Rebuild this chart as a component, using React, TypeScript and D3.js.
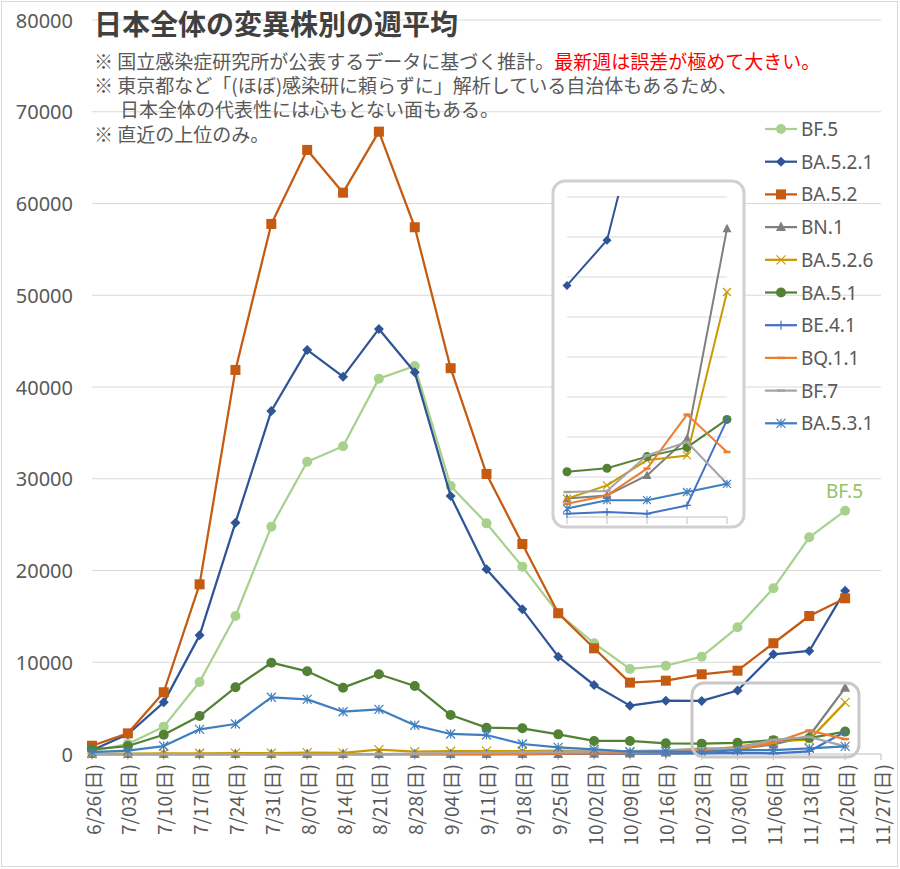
import * as d3 from "d3";

const weeks = [
  "6/26(日)", "7/03(日)", "7/10(日)", "7/17(日)", "7/24(日)", "7/31(日)",
  "8/07(日)", "8/14(日)", "8/21(日)", "8/28(日)", "9/04(日)", "9/11(日)",
  "9/18(日)", "9/25(日)", "10/02(日)", "10/09(日)", "10/16(日)", "10/23(日)",
  "10/30(日)", "11/06(日)", "11/13(日)", "11/20(日)", "11/27(日)",
];

const bf5 = [300, 1100, 2980, 7850, 15040, 24780, 31860, 33540, 40910, 42290, 29210, 25140, 20420, 15340, 12070, 9270, 9620, 10610, 13810, 18060, 23620, 26520];
const ba5_2_1 = [400, 2150, 5630, 12930, 25210, 37390, 44040, 41130, 46330, 41600, 28120, 20130, 15770, 10610, 7520, 5270, 5810, 5790, 6920, 10860, 11230, 17800];
const ba5_2 = [900, 2250, 6730, 18490, 41860, 57770, 65840, 61180, 67830, 57410, 42050, 30520, 22890, 15340, 11520, 7780, 7990, 8690, 9080, 12070, 15040, 16970];
const bn1 = [0, 0, 0, 0, 0, 0, 0, 0, 0, 0, 0, 0, 0, 10, 20, 50, 150, 460, 540, 1040, 1960, 7210];
const ba5_2_6 = [30, 40, 60, 80, 90, 100, 150, 120, 480, 250, 300, 320, 300, 380, 300, 200, 250, 460, 790, 1420, 1540, 5625];
const ba5_1 = [510, 870, 2100, 4140, 7270, 9950, 9010, 7230, 8690, 7410, 4250, 2870, 2800, 2140, 1420, 1420, 1160, 1130, 1220, 1510, 1740, 2440];
const be4_1 = [0, 0, 0, 0, 0, 0, 0, 0, 0, 0, 0, 0, 0, 10, 20, 30, 50, 80, 125, 80, 290, 2430];
const bq1_1 = [0, 0, 0, 0, 0, 0, 0, 0, 0, 0, 0, 0, 10, 30, 60, 100, 200, 330, 540, 1210, 2560, 1625];
const bf7 = [0, 0, 0, 0, 0, 0, 0, 0, 0, 50, 100, 150, 200, 250, 300, 300, 400, 625, 650, 1540, 1875, 830];
const ba5_3_1 = [200, 360, 870, 2690, 3270, 6180, 5960, 4610, 4870, 3130, 2180, 2070, 1090, 730, 510, 250, 280, 210, 420, 420, 625, 830];

const yTicks = [0, 10000, 20000, 30000, 40000, 50000, 60000, 70000, 80000];
const insetTicks = [1000, 2000, 3000, 4000, 5000, 6000, 7000, 8000];

type MarkerType = "circle" | "square" | "diamond" | "triangle" | "x" | "plus" | "dash" | "star";

const series: { name: string; values: number[]; color: string; marker: MarkerType }[] = [
  { name: "BF.5", values: bf5, color: "#a9d18e", marker: "circle" },
  { name: "BA.5.2.1", values: ba5_2_1, color: "#2f5597", marker: "diamond" },
  { name: "BA.5.2", values: ba5_2, color: "#c55a11", marker: "square" },
  { name: "BN.1", values: bn1, color: "#7f7f7f", marker: "triangle" },
  { name: "BA.5.2.6", values: ba5_2_6, color: "#c89a00", marker: "x" },
  { name: "BA.5.1", values: ba5_1, color: "#548235", marker: "circle" },
  { name: "BE.4.1", values: be4_1, color: "#4472c4", marker: "plus" },
  { name: "BQ.1.1", values: bq1_1, color: "#ed7d31", marker: "dash" },
  { name: "BF.7", values: bf7, color: "#a5a5a5", marker: "dash" },
  { name: "BA.5.3.1", values: ba5_3_1, color: "#3f7fbf", marker: "star" },
];

const LATIN = "'Noto Sans', 'DejaVu Sans', sans-serif";
const CJK = "'Noto Sans CJK JP', 'Noto Sans', sans-serif";
const TEXT = "#595959";

function Marker({ type, cx, cy, color, s }: { type: MarkerType; cx: number; cy: number; color: string; s: number }) {
  const r = s / 2;
  switch (type) {
    case "circle":
      return <circle cx={cx} cy={cy} r={r} fill={color} />;
    case "square":
      return <rect x={cx - r} y={cy - r} width={s} height={s} fill={color} />;
    case "diamond":
      return <path d={`M${cx},${cy - r}L${cx + r},${cy}L${cx},${cy + r}L${cx - r},${cy}Z`} fill={color} />;
    case "triangle":
      return <path d={`M${cx},${cy - r * 1.1}L${cx + r},${cy + r * 0.8}L${cx - r},${cy + r * 0.8}Z`} fill={color} />;
    case "x":
      return (
        <path d={`M${cx - r},${cy - r}L${cx + r},${cy + r}M${cx - r},${cy + r}L${cx + r},${cy - r}`} stroke={color} strokeWidth={1.2} fill="none" />
      );
    case "plus":
      return (
        <path d={`M${cx - r},${cy}L${cx + r},${cy}M${cx},${cy - r}L${cx},${cy + r}`} stroke={color} strokeWidth={1.2} fill="none" />
      );
    case "dash":
      return <path d={`M${cx - r},${cy}L${cx + r},${cy}`} stroke={color} strokeWidth={2.5} fill="none" />;
    case "star":
      return (
        <path
          d={`M${cx - r},${cy - r}L${cx + r},${cy + r}M${cx - r},${cy + r}L${cx + r},${cy - r}M${cx},${cy - r}L${cx},${cy + r}`}
          stroke={color}
          strokeWidth={1.2}
          fill="none"
        />
      );
  }
  return null;
}

function markerSize(type: MarkerType, big: boolean) {
  const base: Record<MarkerType, number> = {
    circle: 10, square: 10, diamond: 10, triangle: 10, x: 9, plus: 9, dash: 8, star: 9,
  };
  return big ? base[type] : base[type] - 1;
}

export default function App() {
  const x = d3.scalePoint<string>().domain(weeks).range([92, 881]);
  const y = d3.scaleLinear().domain([0, 80000]).range([754, 20]);

  const insetWeeks = weeks.slice(17, 22);
  const xi = d3.scalePoint<string>().domain(insetWeeks).range([567, 727]);
  const yi = d3.scaleLinear().domain([0, 8000]).range([517, 197]);

  const line = d3
    .line<number>()
    .x((_, i) => x(weeks[i]) as number)
    .y((d) => y(d));
  const insetLine = d3
    .line<number>()
    .x((_, i) => xi(insetWeeks[i]) as number)
    .y((d) => yi(d));

  return (
    <svg width={900} height={869} style={{ position: "absolute", left: 0, top: 0, background: "#fff" }}>
      <defs>
        <clipPath id="insetClip">
          <rect x={555} y={196} width={188} height={330} />
        </clipPath>
      </defs>
      <rect x={1.5} y={1.5} width={896} height={865} fill="#fff" stroke="#d9d9d9" strokeWidth={1} />

      {/* grid + y labels */}
      {yTicks.map((t) => (
        <g key={t}>
          {t > 0 && <line x1={92} x2={881} y1={y(t)} y2={y(t)} stroke="#d9d9d9" strokeWidth={1} />}
          <text x={73} y={y(t)} textAnchor="end" dominantBaseline="central" fontFamily={LATIN} fontSize={20} fill={TEXT}>
            {t}
          </text>
        </g>
      ))}

      {/* x axis */}
      <line x1={92} x2={881} y1={y(0)} y2={y(0)} stroke="#bfbfbf" strokeWidth={1} />
      {weeks.map((w) => (
        <g key={w}>
          <line x1={x(w)} x2={x(w)} y1={y(0)} y2={y(0) + 6} stroke="#bfbfbf" strokeWidth={1} />
          <text
            transform={`translate(${x(w)},${y(0) + 10}) rotate(-90)`}
            textAnchor="end"
            dominantBaseline="central"
            fontFamily={CJK}
            fontSize={19}
            fill={TEXT}
          >
            {w}
          </text>
        </g>
      ))}

      {/* title and notes */}
      <text x={94} y={23} dominantBaseline="central" fontFamily={CJK} fontWeight="bold" fontSize={28} fill="#404040">
        日本全体の変異株別の週平均
      </text>
      <g fontFamily={CJK} fontSize={19} fill={TEXT}>
        <text x={94} y={60} dominantBaseline="central">
          ※ 国立感染症研究所が公表するデータに基づく推計。
          <tspan fill="#ff0000">最新週は誤差が極めて大きい。</tspan>
        </text>
        <text x={94} y={84} dominantBaseline="central">
          ※ 東京都など「(ほぼ)感染研に頼らずに」解析している自治体もあるため、
        </text>
        <text x={120} y={108} dominantBaseline="central">
          日本全体の代表性には心もとない面もある。
        </text>
        <text x={94} y={133} dominantBaseline="central">
          ※ 直近の上位のみ。
        </text>
      </g>

      {/* main series */}
      {series.map((s) => (
        <g key={s.name}>
          <path d={line(s.values) ?? ""} fill="none" stroke={s.color} strokeWidth={2.25} strokeLinejoin="round" />
          {s.values.map((v, i) => (
            <Marker key={i} type={s.marker} cx={x(weeks[i]) as number} cy={y(v)} color={s.color} s={markerSize(s.marker, true)} />
          ))}
        </g>
      ))}

      {/* highlight box */}
      <rect x={692} y={683} width={167} height={74} rx={12} fill="none" stroke="#c8c8c8" strokeWidth={3} />

      {/* BF.5 label */}
      <text x={826} y={491} dominantBaseline="central" fontFamily={LATIN} fontSize={19} fill="#8fc46a">
        BF.5
      </text>

      {/* inset */}
      <rect x={553} y={181} width={191} height={346} rx={12} fill="#fff" stroke="#d0d0d0" strokeWidth={3} />
      {insetTicks.map((t) => (
        <line key={t} x1={567} x2={727} y1={yi(t)} y2={yi(t)} stroke="#d9d9d9" strokeWidth={1} />
      ))}
      <line x1={567} x2={727} y1={yi(0)} y2={yi(0)} stroke="#bfbfbf" strokeWidth={1} />
      {insetWeeks.map((w) => (
        <line key={w} x1={xi(w)} x2={xi(w)} y1={yi(0)} y2={yi(0) + 7} stroke="#bfbfbf" strokeWidth={1} />
      ))}
      <g clipPath="url(#insetClip)">
        {series.map((s) => {
          const vals = s.values.slice(17, 22);
          return (
            <g key={s.name}>
              <path d={insetLine(vals) ?? ""} fill="none" stroke={s.color} strokeWidth={2} strokeLinejoin="round" />
              {vals.map((v, i) => (
                <Marker key={i} type={s.marker} cx={xi(insetWeeks[i]) as number} cy={yi(v)} color={s.color} s={markerSize(s.marker, false)} />
              ))}
            </g>
          );
        })}
      </g>

      {/* legend */}
      {series.map((s, i) => {
        const ly = 129 + i * 32.7;
        return (
          <g key={s.name}>
            <line x1={765} x2={797} y1={ly} y2={ly} stroke={s.color} strokeWidth={2.25} />
            <Marker type={s.marker} cx={781} cy={ly} color={s.color} s={markerSize(s.marker, true)} />
            <text x={801} y={ly} dominantBaseline="central" fontFamily={LATIN} fontSize={19} fill={TEXT}>
              {s.name}
            </text>
          </g>
        );
      })}
    </svg>
  );
}
